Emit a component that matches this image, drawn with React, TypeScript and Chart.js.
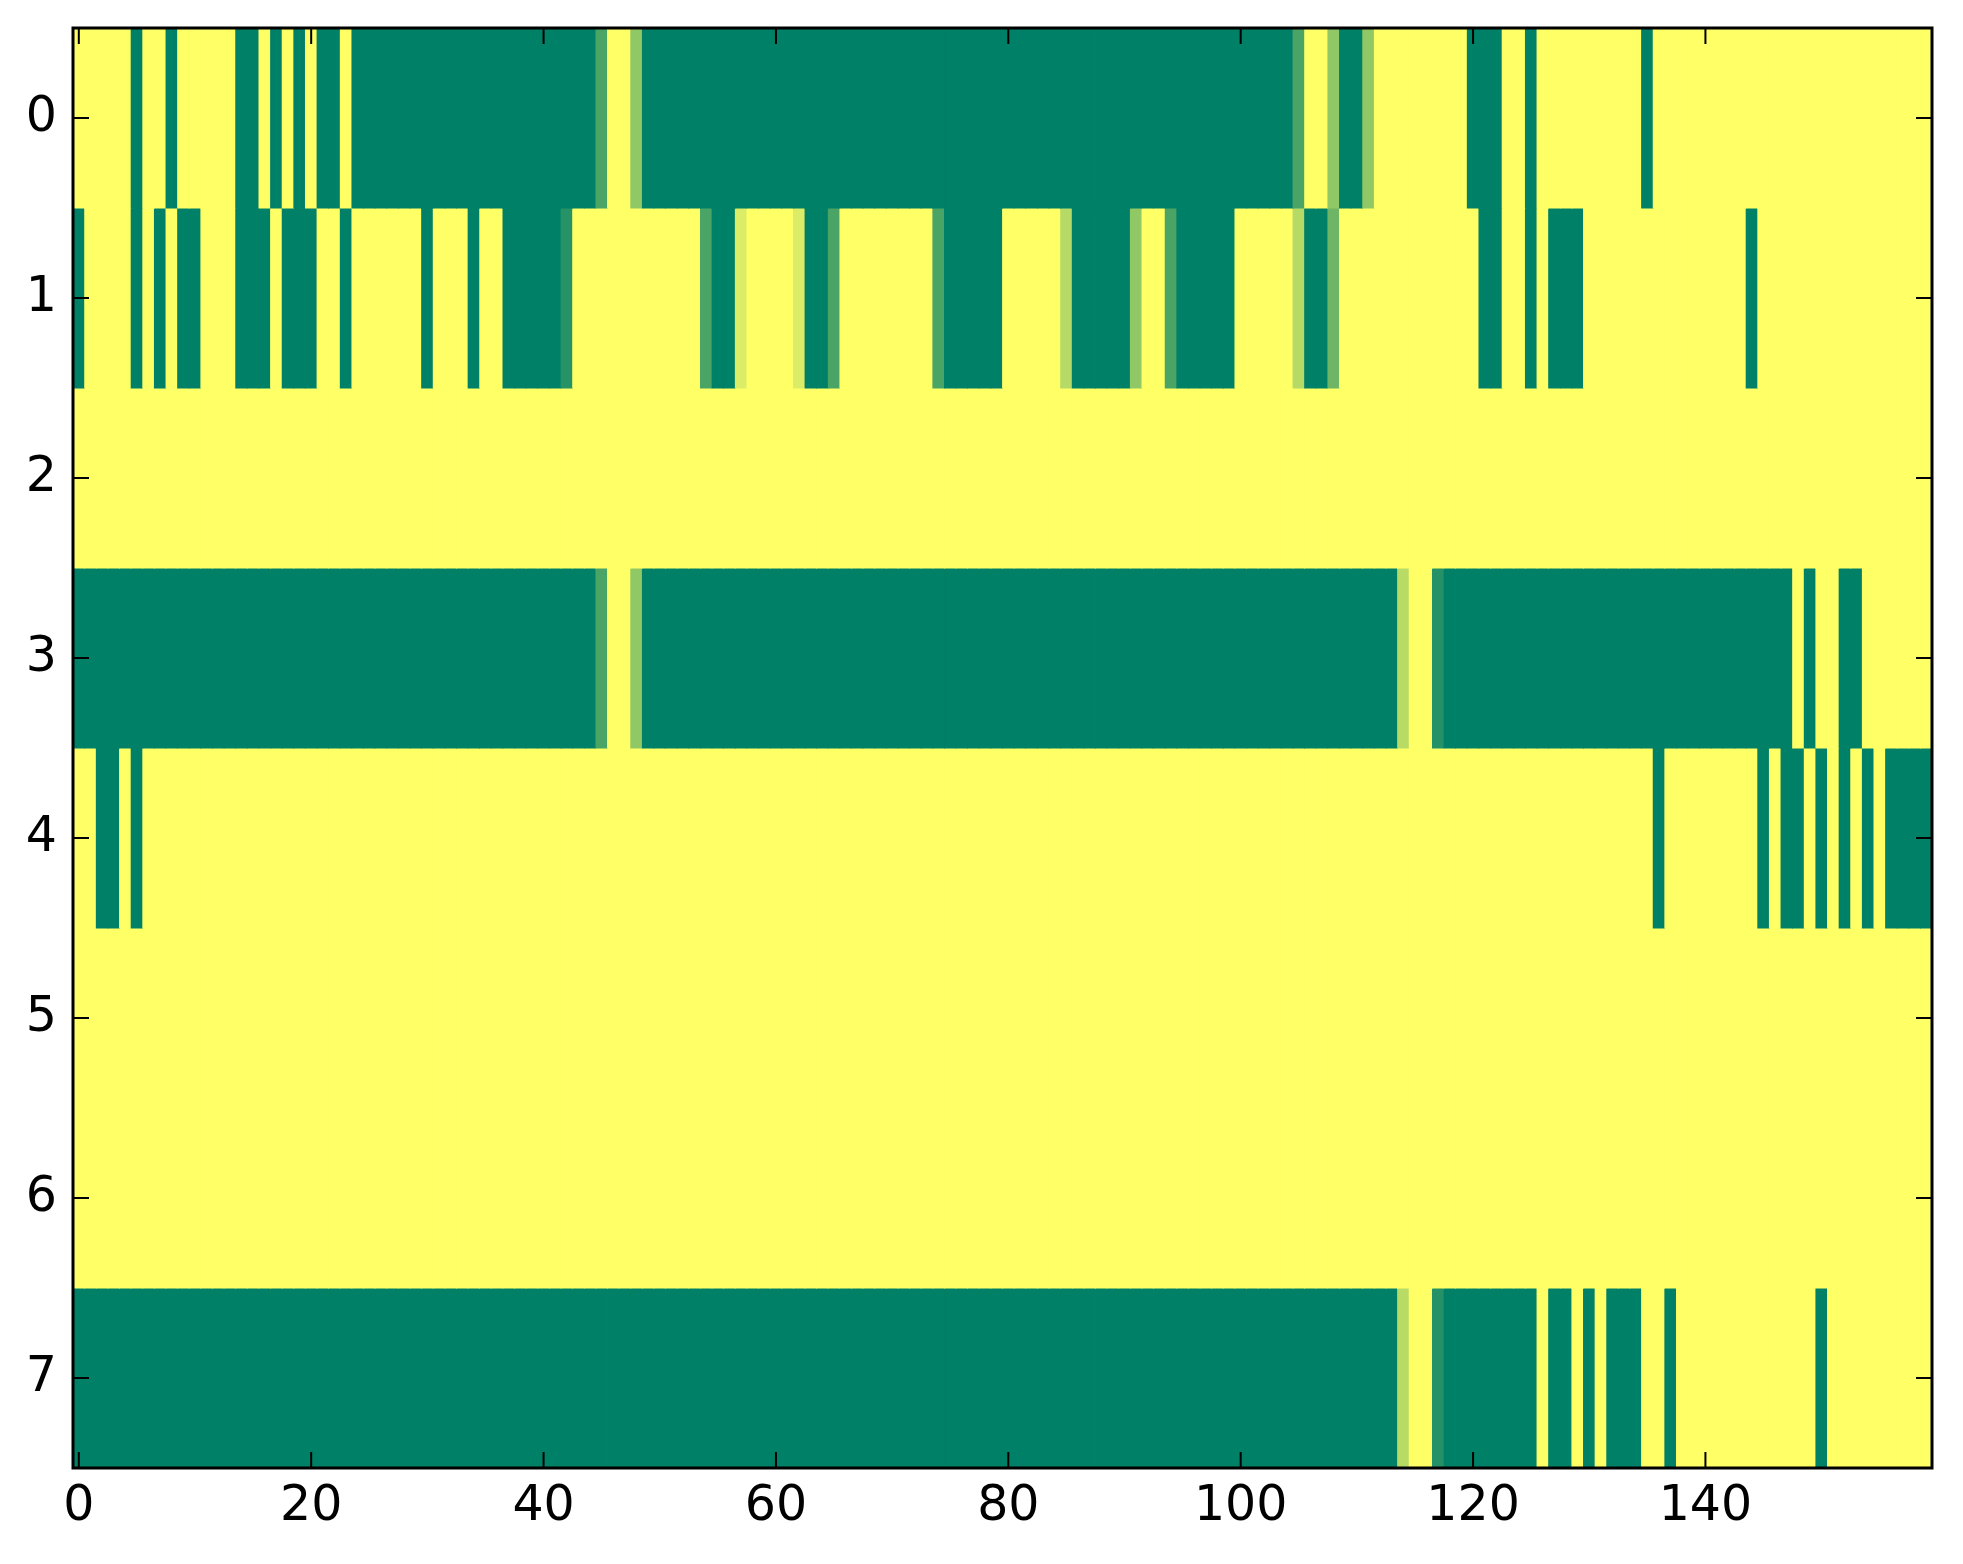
import React, { useEffect, useRef } from "react";
import { Chart, registerables } from "chart.js";

Chart.register(...registerables);

// Row labels (y axis) and x tick values
const yLabels = ["0", "1", "2", "3", "4", "5", "6", "7"];
const xTickValues = [0, 20, 40, 60, 80, 100, 120, 140];

// Cell values (0 = green end, 1 = yellow end of the "summer" colour map), 160 columns each
const row0 = [
  1, 1, 1, 1, 1, 0, 1, 1, 0, 1, 1, 1, 1, 1, 0, 0, 1, 0, 1, 0,
  1, 0, 0, 1, 0, 0, 0, 0, 0, 0, 0, 0, 0, 0, 0, 0, 0, 0, 0, 0,
  0, 0, 0, 0, 0, 0.29, 1, 1, 0.57, 0, 0, 0, 0, 0, 0, 0, 0, 0, 0, 0,
  0, 0, 0, 0, 0, 0, 0, 0, 0, 0, 0, 0, 0, 0, 0, 0, 0, 0, 0, 0,
  0, 0, 0, 0, 0, 0, 0, 0, 0, 0, 0, 0, 0, 0, 0, 0, 0, 0, 0, 0,
  0, 0, 0, 0, 0, 0.29, 1, 1, 0.57, 0, 0, 0.57, 1, 1, 1, 1, 1, 1, 1, 1,
  0, 0, 0, 1, 1, 0, 1, 1, 1, 1, 1, 1, 1, 1, 1, 0, 1, 1, 1, 1,
  1, 1, 1, 1, 1, 1, 1, 1, 1, 1, 1, 1, 1, 1, 1, 1, 1, 1, 1, 1,
];
const row1 = [
  0, 1, 1, 1, 1, 0, 1, 0, 1, 0, 0, 1, 1, 1, 0, 0, 0, 1, 0, 0,
  0, 1, 1, 0, 1, 1, 1, 1, 1, 1, 0, 1, 1, 1, 0, 1, 1, 0, 0, 0,
  0, 0, 0.15, 1, 1, 1, 1, 1, 1, 1, 1, 1, 1, 1, 0.29, 0, 0, 0.86, 1, 1,
  1, 1, 0.86, 0, 0, 0.29, 1, 1, 1, 1, 1, 1, 1, 1, 0.29, 0, 0, 0, 0, 0,
  1, 1, 1, 1, 1, 0.71, 0, 0, 0, 0, 0, 0.57, 1, 1, 0.29, 0, 0, 0, 0, 0,
  1, 1, 1, 1, 1, 0.71, 0, 0, 0.43, 1, 1, 1, 1, 1, 1, 1, 1, 1, 1, 1,
  1, 0, 0, 1, 1, 0, 1, 0, 0, 0, 1, 1, 1, 1, 1, 1, 1, 1, 1, 1,
  1, 1, 1, 1, 0, 1, 1, 1, 1, 1, 1, 1, 1, 1, 1, 1, 1, 1, 1, 1,
];
const row2 = [
  1, 1, 1, 1, 1, 1, 1, 1, 1, 1, 1, 1, 1, 1, 1, 1, 1, 1, 1, 1,
  1, 1, 1, 1, 1, 1, 1, 1, 1, 1, 1, 1, 1, 1, 1, 1, 1, 1, 1, 1,
  1, 1, 1, 1, 1, 1, 1, 1, 1, 1, 1, 1, 1, 1, 1, 1, 1, 1, 1, 1,
  1, 1, 1, 1, 1, 1, 1, 1, 1, 1, 1, 1, 1, 1, 1, 1, 1, 1, 1, 1,
  1, 1, 1, 1, 1, 1, 1, 1, 1, 1, 1, 1, 1, 1, 1, 1, 1, 1, 1, 1,
  1, 1, 1, 1, 1, 1, 1, 1, 1, 1, 1, 1, 1, 1, 1, 1, 1, 1, 1, 1,
  1, 1, 1, 1, 1, 1, 1, 1, 1, 1, 1, 1, 1, 1, 1, 1, 1, 1, 1, 1,
  1, 1, 1, 1, 1, 1, 1, 1, 1, 1, 1, 1, 1, 1, 1, 1, 1, 1, 1, 1,
];
const row3 = [
  0, 0, 0, 0, 0, 0, 0, 0, 0, 0, 0, 0, 0, 0, 0, 0, 0, 0, 0, 0,
  0, 0, 0, 0, 0, 0, 0, 0, 0, 0, 0, 0, 0, 0, 0, 0, 0, 0, 0, 0,
  0, 0, 0, 0, 0, 0.29, 1, 1, 0.57, 0, 0, 0, 0, 0, 0, 0, 0, 0, 0, 0,
  0, 0, 0, 0, 0, 0, 0, 0, 0, 0, 0, 0, 0, 0, 0, 0, 0, 0, 0, 0,
  0, 0, 0, 0, 0, 0, 0, 0, 0, 0, 0, 0, 0, 0, 0, 0, 0, 0, 0, 0,
  0, 0, 0, 0, 0, 0, 0, 0, 0, 0, 0, 0, 0, 0, 0.72, 1, 1, 0.14, 0, 0,
  0, 0, 0, 0, 0, 0, 0, 0, 0, 0, 0, 0, 0, 0, 0, 0, 0, 0, 0, 0,
  0, 0, 0, 0, 0, 0, 0, 0, 1, 0, 1, 1, 0, 0, 1, 1, 1, 1, 1, 1,
];
const row4 = [
  1, 1, 0, 0, 1, 0, 1, 1, 1, 1, 1, 1, 1, 1, 1, 1, 1, 1, 1, 1,
  1, 1, 1, 1, 1, 1, 1, 1, 1, 1, 1, 1, 1, 1, 1, 1, 1, 1, 1, 1,
  1, 1, 1, 1, 1, 1, 1, 1, 1, 1, 1, 1, 1, 1, 1, 1, 1, 1, 1, 1,
  1, 1, 1, 1, 1, 1, 1, 1, 1, 1, 1, 1, 1, 1, 1, 1, 1, 1, 1, 1,
  1, 1, 1, 1, 1, 1, 1, 1, 1, 1, 1, 1, 1, 1, 1, 1, 1, 1, 1, 1,
  1, 1, 1, 1, 1, 1, 1, 1, 1, 1, 1, 1, 1, 1, 1, 1, 1, 1, 1, 1,
  1, 1, 1, 1, 1, 1, 1, 1, 1, 1, 1, 1, 1, 1, 1, 1, 0, 1, 1, 1,
  1, 1, 1, 1, 1, 0, 1, 0, 0, 1, 0, 1, 0, 1, 0, 1, 0, 0, 0, 0,
];
const row5 = [
  1, 1, 1, 1, 1, 1, 1, 1, 1, 1, 1, 1, 1, 1, 1, 1, 1, 1, 1, 1,
  1, 1, 1, 1, 1, 1, 1, 1, 1, 1, 1, 1, 1, 1, 1, 1, 1, 1, 1, 1,
  1, 1, 1, 1, 1, 1, 1, 1, 1, 1, 1, 1, 1, 1, 1, 1, 1, 1, 1, 1,
  1, 1, 1, 1, 1, 1, 1, 1, 1, 1, 1, 1, 1, 1, 1, 1, 1, 1, 1, 1,
  1, 1, 1, 1, 1, 1, 1, 1, 1, 1, 1, 1, 1, 1, 1, 1, 1, 1, 1, 1,
  1, 1, 1, 1, 1, 1, 1, 1, 1, 1, 1, 1, 1, 1, 1, 1, 1, 1, 1, 1,
  1, 1, 1, 1, 1, 1, 1, 1, 1, 1, 1, 1, 1, 1, 1, 1, 1, 1, 1, 1,
  1, 1, 1, 1, 1, 1, 1, 1, 1, 1, 1, 1, 1, 1, 1, 1, 1, 1, 1, 1,
];
const row6 = [
  1, 1, 1, 1, 1, 1, 1, 1, 1, 1, 1, 1, 1, 1, 1, 1, 1, 1, 1, 1,
  1, 1, 1, 1, 1, 1, 1, 1, 1, 1, 1, 1, 1, 1, 1, 1, 1, 1, 1, 1,
  1, 1, 1, 1, 1, 1, 1, 1, 1, 1, 1, 1, 1, 1, 1, 1, 1, 1, 1, 1,
  1, 1, 1, 1, 1, 1, 1, 1, 1, 1, 1, 1, 1, 1, 1, 1, 1, 1, 1, 1,
  1, 1, 1, 1, 1, 1, 1, 1, 1, 1, 1, 1, 1, 1, 1, 1, 1, 1, 1, 1,
  1, 1, 1, 1, 1, 1, 1, 1, 1, 1, 1, 1, 1, 1, 1, 1, 1, 1, 1, 1,
  1, 1, 1, 1, 1, 1, 1, 1, 1, 1, 1, 1, 1, 1, 1, 1, 1, 1, 1, 1,
  1, 1, 1, 1, 1, 1, 1, 1, 1, 1, 1, 1, 1, 1, 1, 1, 1, 1, 1, 1,
];
const row7 = [
  0, 0, 0, 0, 0, 0, 0, 0, 0, 0, 0, 0, 0, 0, 0, 0, 0, 0, 0, 0,
  0, 0, 0, 0, 0, 0, 0, 0, 0, 0, 0, 0, 0, 0, 0, 0, 0, 0, 0, 0,
  0, 0, 0, 0, 0, 0, 0, 0, 0, 0, 0, 0, 0, 0, 0, 0, 0, 0, 0, 0,
  0, 0, 0, 0, 0, 0, 0, 0, 0, 0, 0, 0, 0, 0, 0, 0, 0, 0, 0, 0,
  0, 0, 0, 0, 0, 0, 0, 0, 0, 0, 0, 0, 0, 0, 0, 0, 0, 0, 0, 0,
  0, 0, 0, 0, 0, 0, 0, 0, 0, 0, 0, 0, 0, 0, 0.72, 1, 1, 0.14, 0, 0,
  0, 0, 0, 0, 0, 0, 1, 0, 0, 1, 0, 1, 0, 0, 0, 1, 1, 0, 1, 1,
  1, 1, 1, 1, 1, 1, 1, 1, 1, 1, 0, 1, 1, 1, 1, 1, 1, 1, 1, 1,
];

const rows = [row0, row1, row2, row3, row4, row5, row6, row7];

// matplotlib "summer" colour map
function summer(v: number): string {
  const r = Math.round(255 * v);
  const g = Math.round(255 * (0.5 + 0.5 * v));
  return `rgb(${r},${g},102)`;
}

const FONT = { family: "DejaVu Sans", size: 49 };

const framePlugin = {
  id: "mplFrame",
  afterDraw(chart: any) {
    const { ctx, chartArea: a, scales } = chart;
    const tl = 16;
    ctx.save();
    ctx.strokeStyle = "#000";
    ctx.lineWidth = 2;
    ctx.beginPath();
    for (const v of xTickValues) {
      const px = scales.x.getPixelForValue(v);
      ctx.moveTo(px, a.bottom);
      ctx.lineTo(px, a.bottom - tl);
      ctx.moveTo(px, a.top);
      ctx.lineTo(px, a.top + tl);
    }
    yLabels.forEach((_, i) => {
      const py = scales.y.getPixelForTick(i);
      ctx.moveTo(a.left, py);
      ctx.lineTo(a.left + tl, py);
      ctx.moveTo(a.right, py);
      ctx.lineTo(a.right - tl, py);
    });
    ctx.stroke();
    ctx.lineWidth = 3;
    ctx.strokeRect(a.left, a.top, a.right - a.left, a.bottom - a.top);
    ctx.restore();
  },
};

export default function App() {
  const ref = useRef<HTMLCanvasElement | null>(null);

  useEffect(() => {
    document.body.style.margin = "0";
    document.body.style.background = "#fff";
    const canvas = ref.current;
    if (!canvas) return;

    const datasets = rows.map((row, r) => ({
      data: row.map((_, c) => ({ y: yLabels[r], x: [c - 0.5, c + 0.5] })),
      backgroundColor: row.map(summer),
      borderWidth: 0,
      barPercentage: 1,
      categoryPercentage: 1,
      grouped: false,
      inflateAmount: 0.4,
    }));

    const chart = new Chart(canvas, {
      type: "bar",
      data: { labels: yLabels, datasets: datasets as any },
      options: {
        indexAxis: "y",
        animation: false,
        responsive: false,
        devicePixelRatio: 1,
        events: [],
        layout: { padding: { top: 28, right: 31, left: 0, bottom: 0 } },
        plugins: { legend: { display: false }, tooltip: { enabled: false } },
        scales: {
          x: {
            type: "linear",
            position: "bottom",
            min: -0.5,
            max: 159.5,
            grid: { display: false, drawTicks: false },
            border: { display: false },
            ticks: { font: FONT, color: "#000", padding: 10, maxRotation: 0, autoSkip: false },
            afterBuildTicks: (scale: any) => {
              scale.ticks = xTickValues.map((v) => ({ value: v }));
            },
            afterFit: (scale: any) => {
              scale.height = 96;
              scale.paddingLeft = 0;
              scale.paddingRight = 0;
            },
          },
          y: {
            type: "category",
            position: "left",
            offset: true,
            grid: { display: false, drawTicks: false },
            border: { display: false },
            ticks: { font: FONT, color: "#000", padding: 16 },
            afterFit: (scale: any) => {
              scale.width = 73;
              scale.paddingTop = 0;
              scale.paddingBottom = 0;
            },
          },
        },
      } as any,
      plugins: [framePlugin],
    });

    return () => chart.destroy();
  }, []);

  return (
    <div style={{ width: 1963, height: 1564, background: "#fff" }}>
      <canvas ref={ref} width={1963} height={1564} style={{ display: "block" }} />
    </div>
  );
}
